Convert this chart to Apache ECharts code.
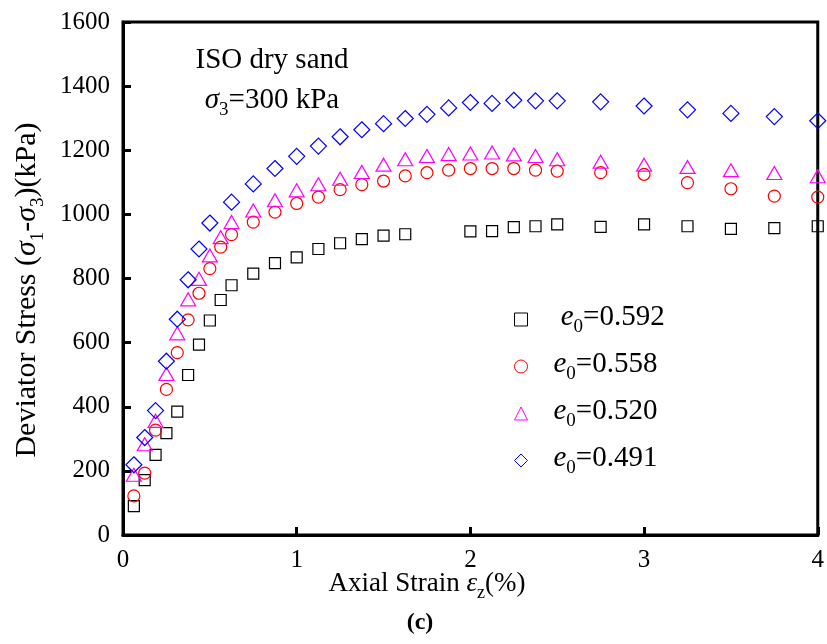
<!DOCTYPE html>
<html>
<head>
<meta charset="utf-8">
<script src="https://cdn.jsdelivr.net/npm/echarts@6/dist/echarts.min.js"></script>
<style>
  html, body { margin: 0; padding: 0; background: #fff; }
  #chart { width: 827px; height: 644px; }
</style>
</head>
<body>
<div id="chart"></div>
<script>
// Axial strain (%) sampling used by each test
const strainLoose = [0.0625, 0.125, 0.1875, 0.25, 0.3125, 0.375, 0.4375, 0.5, 0.5625, 0.625,
  0.75, 0.875, 1.0, 1.125, 1.25, 1.375, 1.5, 1.625,
  2.0, 2.125, 2.25, 2.375, 2.5, 2.75, 3.0, 3.25, 3.5, 3.75, 4.0];
const strainMedium = [0.0625, 0.125, 0.1875, 0.25, 0.3125, 0.375, 0.4375, 0.5, 0.5625, 0.625,
  0.75, 0.875, 1.0, 1.125, 1.25, 1.375, 1.5, 1.625, 1.75, 1.875,
  2.0, 2.125, 2.25, 2.375, 2.5, 2.75, 3.0, 3.25, 3.5, 3.75, 4.0];
const strainDense = [0.0625, 0.125, 0.1875, 0.25, 0.3125, 0.375, 0.4375, 0.5, 0.625,
  0.75, 0.875, 1.0, 1.125, 1.25, 1.375, 1.5, 1.625, 1.75, 1.875,
  2.0, 2.125, 2.25, 2.375, 2.5, 2.75, 3.0, 3.25, 3.5, 3.75, 4.0];

// Deviator stress (kPa) for each void ratio
const stress0592 = [90, 171, 250, 318, 385, 499, 594, 669, 733, 779,
  815, 848, 866, 892, 910, 923, 934, 938,
  947, 948, 960, 963, 969, 961, 969, 963, 955, 957, 963];
const stress0558 = [122, 193, 327, 454, 569, 671, 754, 831, 898, 937,
  976, 1007, 1034, 1054, 1077, 1093, 1104, 1120, 1130, 1138,
  1143, 1143, 1143, 1138, 1135, 1130, 1125, 1099, 1080, 1057, 1054];
const stress0520 = [188, 283, 356, 502, 629, 735, 799, 872, 929, 976,
  1012, 1044, 1075, 1094, 1111, 1132, 1155, 1172, 1182, 1188,
  1190, 1193, 1187, 1182, 1172, 1164, 1155, 1148, 1138, 1129, 1119];
const stress0491 = [219, 304, 388, 542, 673, 796, 892, 973, 1038,
  1095, 1143, 1181, 1213, 1242, 1264, 1283, 1299, 1312, 1332,
  1349, 1346, 1356, 1354, 1354, 1351, 1338, 1326, 1315, 1305, 1292];

const voidRatios = ['0.592', '0.558', '0.520', '0.491'];
const xTicks = [0, 1, 2, 3, 4];
const yTicks = [0, 200, 400, 600, 800, 1000, 1200, 1400, 1600];

const SERIF = '"Liberation Serif", "Times New Roman", serif';

function pairs(xs, ys) {
  return xs.map((x, i) => [x, ys[i]]);
}

// rich-text pieces: t = upright, i = italic, s = subscript
function richSet(size, subSize, drop) {
  const lh = Math.round(size * 1.15);
  return {
    t: { fontFamily: SERIF, fontSize: size, lineHeight: lh, verticalAlign: 'top', color: '#000' },
    i: { fontFamily: SERIF, fontSize: size, lineHeight: lh, verticalAlign: 'top', fontStyle: 'italic', color: '#000' },
    s: { fontFamily: SERIF, fontSize: subSize, lineHeight: subSize, verticalAlign: 'top', padding: [drop, 0, 0, 0], color: '#000' }
  };
}

const seriesDefs = [
  { xs: strainLoose,  ys: stress0592, color: '#000000', symbol: 'rect',     size: 11 },
  { xs: strainMedium, ys: stress0558, color: '#ff0000', symbol: 'circle',   size: 12 },
  { xs: strainMedium, ys: stress0520, color: '#ff00ff', symbol: 'triangle', size: [15, 13] },
  { xs: strainDense,  ys: stress0491, color: '#0000ff', symbol: 'diamond',  size: [16, 16] }
];

const chart = echarts.init(document.getElementById('chart'), null, { renderer: 'canvas' });

const plainNumber = v => String(v);

const option = {
  backgroundColor: '#fff',
  animation: false,
  grid: {
    left: 123, right: 6, top: 22, bottom: 109,
    show: true, borderColor: '#000', borderWidth: 3, backgroundColor: 'transparent'
  },
  xAxis: {
    type: 'value', min: xTicks[0], max: xTicks[xTicks.length - 1], interval: 1,
    splitLine: { show: false },
    axisLine: { show: true, onZero: false, lineStyle: { color: '#000', width: 3 } },
    axisTick: { show: true, inside: true, length: 8, lineStyle: { color: '#000', width: 3 } },
    axisLabel: { margin: 13, fontFamily: SERIF, fontSize: 25, color: '#000', formatter: plainNumber }
  },
  yAxis: {
    type: 'value', min: yTicks[0], max: yTicks[yTicks.length - 1], interval: 200,
    splitLine: { show: false },
    axisLine: { show: true, onZero: false, lineStyle: { color: '#000', width: 3 } },
    axisTick: { show: true, inside: true, length: 8, lineStyle: { color: '#000', width: 3 } },
    axisLabel: { margin: 13, fontFamily: SERIF, fontSize: 25, color: '#000', formatter: plainNumber }
  },
  legend: {
    orient: 'vertical',
    left: 509, top: 298,
    itemWidth: 13, itemHeight: 13, itemGap: 13,
    itemStyle: { borderWidth: 1 },
    textStyle: { padding: [0, 0, 0, 21], rich: richSet(29, 19, 15) },
    formatter: name => {
      const idx = seriesDefs.findIndex((d, k) => 'e0=' + voidRatios[k] === name);
      const lead = idx === 0 ? '{t| }' : '';
      return lead + '{i|e}{s|0}{t|=' + voidRatios[idx] + '}';
    }
  },
  series: seriesDefs.map((d, k) => ({
    name: 'e0=' + voidRatios[k],
    type: 'scatter',
    data: pairs(d.xs, d.ys),
    symbol: d.symbol,
    symbolSize: d.size,
    clip: true,
    itemStyle: { color: 'rgba(255,255,255,0)', borderColor: d.color, borderWidth: 1.2, opacity: 1 },
    emphasis: { disabled: true }
  })),
  graphic: [
    {
      type: 'text', x: 272, y: 60,
      style: { text: 'ISO dry sand', fontFamily: SERIF, fontSize: 29, fill: '#000', align: 'center', verticalAlign: 'middle' }
    },
    {
      type: 'text', x: 272, y: 102,
      style: {
        text: '{i|σ}{s|3}{t|=300 kPa}', rich: richSet(29, 19, 15),
        align: 'center', verticalAlign: 'middle'
      }
    },
    {
      type: 'text', x: 30, y: 290, rotation: Math.PI / 2,
      style: {
        text: '{t|Deviator Stress (}{i|σ}{s|1}{t|-}{i|σ}{s|3}{t|)(kPa)}', rich: richSet(30, 19, 16),
        align: 'center', verticalAlign: 'middle'
      }
    },
    {
      type: 'text', x: 427, y: 586,
      style: {
        text: '{t|Axial Strain }{i|ε}{s|z}{t|(%)}', rich: richSet(27, 18, 14),
        align: 'center', verticalAlign: 'middle'
      }
    },
    {
      type: 'text', x: 420, y: 623,
      style: { text: '(c)', fontFamily: SERIF, fontSize: 24, fontWeight: 'bold', fill: '#000', align: 'center', verticalAlign: 'middle' }
    }
  ]
};

chart.setOption(option);
</script>
</body>
</html>
